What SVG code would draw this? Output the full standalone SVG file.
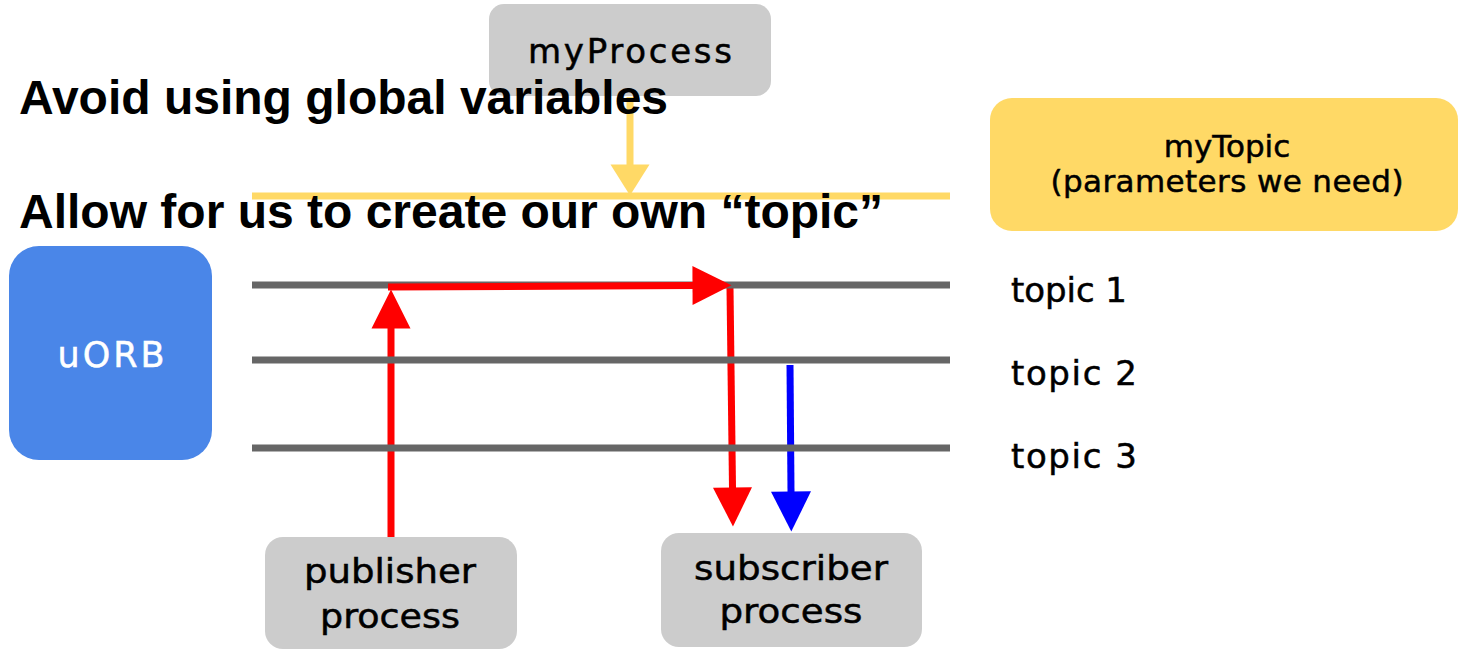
<svg xmlns="http://www.w3.org/2000/svg" width="1459" height="649" viewBox="0 0 1459 649">
  <style>
    .label { font-family: "DejaVu Sans", "Noto Sans", sans-serif; fill: #000000; stroke: #000000; stroke-width: 0.5; text-anchor: middle; }
    .label-light { fill: #ffffff; stroke: #ffffff; }
    .topic { font-family: "DejaVu Sans", "Noto Sans", sans-serif; fill: #000000; stroke: #000000; stroke-width: 0.5; font-size: 34px; }
    .heading { font-family: "Liberation Sans", Arial, sans-serif; font-weight: bold; font-size: 48px; fill: #000000; }
    .gray-box { fill: #cccccc; }
    .bus { stroke: #666666; stroke-width: 7; fill: none; }
    .red { stroke: #ff0000; stroke-width: 7; fill: none; }
    .blue { stroke: #0000ff; stroke-width: 7; fill: none; }
    .yellow { stroke: #ffd966; stroke-width: 7; fill: none; }
  </style>
  <defs>
    <marker id="head-red" markerUnits="userSpaceOnUse" markerWidth="40" markerHeight="40" refX="0.5" refY="19.5" orient="auto" overflow="visible">
      <path d="M0,0 L39,19.5 L0,39 Z" fill="#ff0000"/>
    </marker>
    <marker id="head-blue" markerUnits="userSpaceOnUse" markerWidth="41" markerHeight="41" refX="0.5" refY="20" orient="auto" overflow="visible">
      <path d="M0,0 L40,20 L0,40 Z" fill="#0000ff"/>
    </marker>
    <marker id="head-yellow" markerUnits="userSpaceOnUse" markerWidth="40" markerHeight="40" refX="0.5" refY="19.5" orient="auto" overflow="visible">
      <path d="M0,0 L31,19.5 L0,39 Z" fill="#ffd966"/>
    </marker>
  </defs>

  <rect width="1459" height="649" fill="#ffffff"/>

  <!-- nodes -->
  <g id="myProcess">
    <rect class="gray-box" x="489" y="4" width="282" height="92" rx="15"/>
    <text class="label" x="630" y="63" font-size="34" textLength="204" lengthAdjust="spacing">myProcess</text>
  </g>

  <g id="myTopic">
    <rect x="990" y="98" width="468" height="133" rx="22" fill="#ffd966"/>
    <text class="label" x="1227" y="157" font-size="31">myTopic</text>
    <text class="label" x="1227" y="192" font-size="31" textLength="353" lengthAdjust="spacing">(parameters we need)</text>
  </g>

  <g id="uORB">
    <rect x="9" y="246" width="203" height="214" rx="30" fill="#4a86e8"/>
    <text class="label label-light" x="111" y="367" font-size="35" textLength="107" lengthAdjust="spacing">uORB</text>
  </g>

  <g id="publisher">
    <rect class="gray-box" x="265" y="537" width="252" height="112" rx="18"/>
    <text class="label" x="390" y="583" font-size="33" textLength="172" lengthAdjust="spacingAndGlyphs">publisher</text>
    <text class="label" x="390" y="628" font-size="33" textLength="140" lengthAdjust="spacingAndGlyphs">process</text>
  </g>

  <g id="subscriber">
    <rect class="gray-box" x="661" y="533" width="261" height="114" rx="18"/>
    <text class="label" x="791" y="580" font-size="33" textLength="194" lengthAdjust="spacingAndGlyphs">subscriber</text>
    <text class="label" x="791" y="623" font-size="33" textLength="143" lengthAdjust="spacingAndGlyphs">process</text>
  </g>

  <!-- connectors: vertical flows sit under the topic buses -->
  <g id="connectors">
    <line class="yellow" x1="630" y1="97" x2="630" y2="165" marker-end="url(#head-yellow)"/>
    <line class="yellow" x1="252" y1="196" x2="950" y2="196"/>
    <line class="red" x1="391" y1="537" x2="391" y2="328" marker-end="url(#head-red)"/>
    <line class="red" x1="730" y1="288" x2="732.5" y2="488" marker-end="url(#head-red)"/>
    <line class="blue" x1="790" y1="365" x2="791" y2="492" marker-end="url(#head-blue)"/>

    <g id="topic-buses">
      <line class="bus" x1="252" y1="285" x2="950" y2="285"/>
      <line class="bus" x1="252" y1="360" x2="950" y2="360"/>
      <line class="bus" x1="252" y1="448" x2="950" y2="448"/>
    </g>

    <line class="red" x1="388" y1="287" x2="693" y2="285.5" marker-end="url(#head-red)"/>
  </g>

  <!-- topic labels -->
  <g id="topic-labels">
    <text class="topic" x="1011" y="302" textLength="116" lengthAdjust="spacing">topic 1</text>
    <text class="topic" x="1011" y="385" textLength="126" lengthAdjust="spacing">topic 2</text>
    <text class="topic" x="1011" y="468" textLength="126" lengthAdjust="spacing">topic 3</text>
  </g>

  <!-- headings -->
  <text class="heading" x="19" y="114">Avoid using global variables</text>
  <text class="heading" x="19" y="228">Allow for us to create our own “topic”</text>
</svg>
